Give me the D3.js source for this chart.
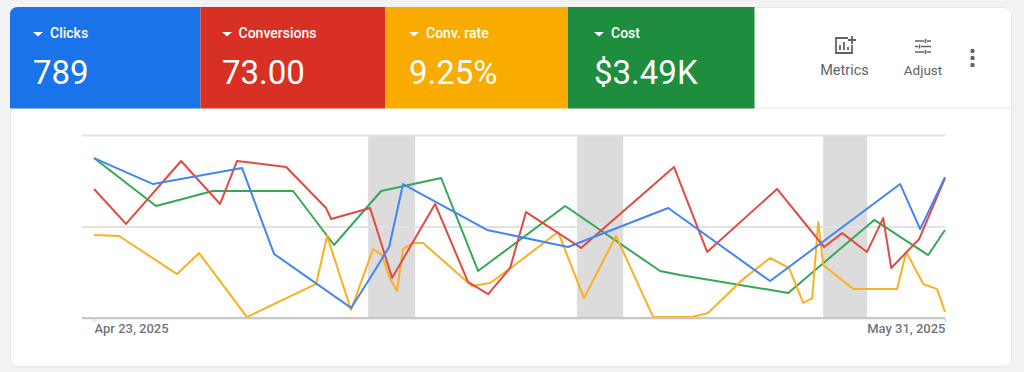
<!DOCTYPE html>
<html>
<head>
<meta charset="utf-8">
<script src="https://cdn.jsdelivr.net/npm/d3@7"></script>
<style>
    html, body { margin: 0; padding: 0; background: #f2f2f2; overflow: hidden; }
    text { font-family: Roboto, sans-serif; }
    .grid line { stroke: #e2e2e2; stroke-width: 2; }
    .grid path { display: none; }
    .x.axis path { stroke: #c8c8c8; stroke-width: 2; }
    .x.axis line { stroke: #cccccc; }
    .x.axis text { font-size: 13px; font-weight: 500; fill: #70757a; }
</style>
</head>
<body>
<div id="chart"></div>
<script>
// metric tiles
var tileNames = ["Clicks", "Conversions", "Conv. rate", "Cost"];
var tileValues = ["789", "73.00", "9.25%", "$3.49K"];
var tileColors = ["#1a73e8", "#d93025", "#f9ab00", "#1e8e3e"];

// x values are days since Apr 23, y values are 0-100 on the normalised axis
var dateLabels = ["Apr 23, 2025", "May 31, 2025"];
var dayRange = [0, 38];
var gridValues = [0, 50, 100];

// shaded periods, start and end day
var bandStarts = [12.24, 21.57, 32.56];
var bandEnds = [14.34, 23.63, 34.52];

var clicksDays = [0, 2.64, 6.61, 8.04, 11.48, 12.33, 13.18, 13.80, 17.55, 21.17, 25.64, 30.19, 36.0, 36.89, 38];
var clicksValues = [87.4, 73.2, 82.0, 35.0, 5.5, 21.9, 38.8, 73.2, 48.1, 38.8, 60.1, 20.2, 73.2, 48.6, 77.0];

var conversionsDays = [0, 1.43, 3.89, 5.63, 6.39, 8.58, 10.36, 10.59, 12.33, 13.31, 15.23, 16.70, 17.60, 18.58, 19.29, 21.75, 25.90, 27.38, 30.50, 32.60, 33.41, 34.52, 35.24, 35.60, 36.85, 38];
var conversionsValues = [70.5, 51.4, 85.8, 62.3, 85.8, 82.5, 60.1, 54.1, 60.1, 21.9, 62.3, 19.7, 13.1, 27.3, 57.9, 38.3, 82.5, 36.1, 70.5, 38.8, 46.4, 36.1, 54.6, 27.3, 43.2, 76.5];

var rateDays = [0, 1.12, 3.71, 4.69, 6.83, 9.92, 10.41, 11.48, 12.46, 12.86, 13.18, 13.53, 13.80, 14.25, 14.69, 16.88, 17.69, 18.67, 20.72, 21.88, 23.31, 24.97, 26.71, 27.42, 28.99, 30.19, 31.04, 31.67, 32.07, 32.34, 32.56, 33.90, 35.86, 36.27, 37.03, 37.65, 38];
var rateValues = [45.4, 44.8, 24.0, 35.5, 0.5, 18.6, 44.8, 4.4, 37.7, 34.4, 22.4, 14.8, 37.7, 41.0, 41.0, 17.5, 19.1, 27.9, 47.0, 10.9, 44.8, 0.5, 0.5, 2.7, 21.3, 32.8, 27.3, 8.2, 10.9, 52.5, 29.0, 15.8, 15.8, 36.1, 18.6, 15.8, 3.3];

var costDays = [0, 2.77, 5.31, 8.89, 10.72, 12.82, 15.50, 17.15, 21.04, 25.28, 26.17, 31.0, 34.84, 37.25, 38];
var costValues = [87.4, 61.2, 69.4, 69.4, 39.9, 69.4, 76.5, 25.7, 61.2, 25.7, 23.5, 13.7, 53.6, 34.4, 48.1];

var width = 1024, height = 372;
var margin = {top: 135, right: 79, bottom: 54, left: 94};

var svg = d3.select("#chart").append("svg")
    .attr("width", width)
    .attr("height", height)
    .style("display", "block");

// card
svg.append("rect")
    .attr("x", 10.5).attr("y", 7.5)
    .attr("width", 1001).attr("height", 359)
    .attr("rx", 8)
    .attr("fill", "#ffffff")
    .attr("stroke", "#e8e8e8");

svg.append("line")
    .attr("x1", 754).attr("x2", 1012)
    .attr("y1", 108).attr("y2", 108)
    .attr("stroke", "#e4e4e4");

// tiles, left one keeps the rounded card corner
var tileEdges = [10, 200.5, 385, 568, 754.5];
var tileTextX = [33, 222, 409, 594];
var tileLabelGap = [17, 16.5, 17, 17];
var tileTop = 7, tileBottom = 108.5;

tileNames.forEach(function(name, i){
    var x0 = tileEdges[i], x1 = tileEdges[i + 1];
    var tile = svg.append("g").attr("class", "tile");

    if (i == 0){
        tile.append("path")
            .attr("d", "M" + x0 + "," + tileBottom + "V" + (tileTop + 8) + "Q" + x0 + "," + tileTop + " " + (x0 + 8) + "," + tileTop + "H" + x1 + "V" + tileBottom + "Z")
            .attr("fill", tileColors[i]);
    }
    else{
        tile.append("rect")
            .attr("x", x0).attr("y", tileTop)
            .attr("width", x1 - x0).attr("height", tileBottom - tileTop)
            .attr("fill", tileColors[i]);
    }

    var textX = tileTextX[i];
    tile.append("path")
        .attr("d", "M" + textX + ",32h10l-5,4.5z")
        .attr("fill", "#ffffff");

    tile.append("text")
        .attr("x", textX + tileLabelGap[i]).attr("y", 37.5)
        .attr("fill", "#ffffff")
        .style("font-size", "14px")
        .style("font-weight", 500)
        .text(name);

    tile.append("text")
        .attr("x", textX).attr("y", 84)
        .attr("fill", "#ffffff")
        .style("font-size", "33px")
        .text(tileValues[i]);
});

// toolbar on the right
var toolbar = svg.append("g").attr("class", "toolbar");

toolbar.append("text").attr("x", 844.5).attr("y", 75)
    .attr("text-anchor", "middle").attr("fill", "#5f6368")
    .style("font-size", "14.5px").text("Metrics");

toolbar.append("text").attr("x", 923).attr("y", 74.5)
    .attr("text-anchor", "middle").attr("fill", "#5f6368")
    .style("font-size", "13.5px").text("Adjust");

// metrics icon
toolbar.append("path")
    .attr("d", "M848,38h-12v15h16v-8M840,50v-5M844,50v-8M848,50v-3M852,36v8M848,40h8")
    .attr("fill", "none").attr("stroke", "#5f6368").attr("stroke-width", 1.8);

// adjust icon
toolbar.append("path")
    .attr("d", "M915,41h9M927,41h4M915,46.5h3M921,46.5h10M915,52h9M927,52h4M925.5,39v4M919.5,44.5v4M925.5,50v4")
    .attr("fill", "none").attr("stroke", "#5f6368").attr("stroke-width", 1.6);

toolbar.selectAll("circle")
    .data([51, 58, 65])
    .enter().append("circle")
    .attr("cx", 972.5)
    .attr("cy", function(d){ return d; })
    .attr("r", 2.2)
    .attr("fill", "#5f6368");

// scales
var x = d3.scaleLinear()
    .domain(dayRange)
    .range([margin.left, width - margin.right]);

var y = d3.scaleLinear()
    .domain([0, 100])
    .range([height - margin.bottom, margin.top]);

// shaded periods
svg.append("g").selectAll("rect")
    .data(bandStarts)
    .enter().append("rect")
    .attr("x", function(d){ return x(d); })
    .attr("y", y(100))
    .attr("width", function(d, i){ return x(bandEnds[i]) - x(d); })
    .attr("height", y(0) - y(100))
    .attr("fill", "#dcdcdc");

// grid lines
var yAxis = d3.axisLeft(y)
    .tickValues(gridValues)
    .tickSize(-(x(38) - x(0) + 12))
    .tickFormat("");

svg.append("g")
    .attr("class", "grid")
    .attr("transform", "translate(" + (margin.left - 12) + ",0)")
    .call(yAxis);

// series
var line = d3.line()
    .x(function(d){ return x(d[0]); })
    .y(function(d){ return y(d[1]); });

var seriesDays = [costDays, rateDays, conversionsDays, clicksDays];
var seriesValues = [costValues, rateValues, conversionsValues, clicksValues];
var seriesColors = ["#34a853", "#fbb01f", "#e04b43", "#4285f4"];

seriesDays.forEach(function(days, i){
    svg.append("path")
        .datum(d3.zip(days, seriesValues[i]))
        .attr("fill", "none")
        .attr("stroke", seriesColors[i])
        .attr("stroke-width", 2)
        .attr("stroke-linejoin", "round")
        .attr("d", line);
});

// x axis, labels only at the two ends
var xAxis = d3.axisBottom(x)
    .tickValues(dayRange)
    .tickSize(4)
    .tickSizeOuter(0)
    .tickFormat(function(d, i){ return dateLabels[i]; });

var xAxisToAdd = svg.append("g")
    .attr("class", "x axis")
    .attr("transform", "translate(0," + y(0) + ")")
    .call(xAxis);

xAxisToAdd.select(".domain")
    .attr("d", "M" + (margin.left - 12) + ",0H" + x(38));

xAxisToAdd.selectAll(".tick text")
    .attr("y", 6)
    .style("text-anchor", function(d, i){ return i == 0 ? "start" : "end"; });
</script>
</body>
</html>
